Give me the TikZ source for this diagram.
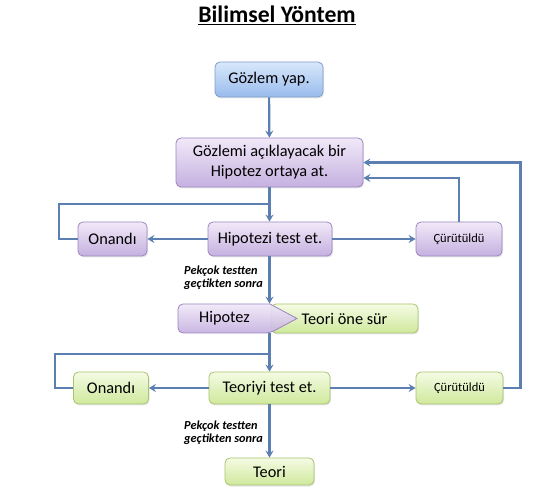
\documentclass[tikz,border=0pt]{standalone}
\usepackage{fontspec}
\setmainfont{Carlito}
\usetikzlibrary{arrows.meta,shadows}
\definecolor{arr}{HTML}{5A7FB0}
\definecolor{blueT}{HTML}{D9E8FB}
\definecolor{blueB}{HTML}{98BBEC}
\definecolor{blueD}{HTML}{7C9CC9}
\definecolor{purT}{HTML}{F1E9F8}
\definecolor{purB}{HTML}{C5B0E0}
\definecolor{purD}{HTML}{9A86C0}
\definecolor{grnT}{HTML}{F5FBE4}
\definecolor{grnB}{HTML}{CFE89C}
\definecolor{grnD}{HTML}{A8C46C}
\tikzset{
  box/.style={rounded corners=5pt, draw, line width=0.8pt, align=center, inner sep=0pt,
    font=\fontsize{16.3}{20}\selectfont,
    drop shadow={shadow xshift=1pt, shadow yshift=-1.5pt, opacity=0.2}},
  bluebox/.style={box, draw=blueD, top color=blueT, bottom color=blueB},
  purbox/.style={box, draw=purD, top color=purT, bottom color=purB},
  grnbox/.style={box, draw=grnD, top color=grnT, bottom color=grnB},
  smalltxt/.style={font=\fontsize{12.5}{15}\selectfont},
  conn/.style={draw=arr, line width=2.2pt},
  arrow/.style={conn, -{Stealth[length=7pt, width=8pt, inset=2.5pt]}},
  note/.style={font=\fontsize{12.3}{12.5}\selectfont\bfseries\itshape, align=left, inner sep=0pt, anchor=north west}
}
\begin{document}
\begin{tikzpicture}[x=1pt, y=-1pt]
\useasboundingbox (0,0) rectangle (550,500);
% title
\node[font=\fontsize{23.7}{26}\selectfont\bfseries] (title) at (277,15) {\underline{Bilimsel Yöntem}};
% boxes
\node[bluebox, minimum width=108pt, minimum height=35pt] (obs) at (269,79.5) {Gözlem yap.};
\node[purbox, minimum width=187pt, minimum height=49pt] (hyp) at (269.5,162.5) {Gözlemi açıklayacak bir\\Hipotez ortaya at.};
\node[purbox, minimum width=69pt, minimum height=34pt] (on1) at (112.5,239) {Onandı};
\node[purbox, minimum width=124pt, minimum height=34pt] (test1) at (270,239) {Hipotezi test et.};
\node[purbox, smalltxt, minimum width=86pt, minimum height=34pt] (cur1) at (459,239) {Çürütüldü};
% hypothesis -> theory
\node[grnbox, minimum width=147pt, minimum height=29pt] (tos) at (344.5,318.5) {Teori öne sür};
\path[draw=purD, line width=0.8pt, top color=purT, bottom color=purB, fill opacity=0.92]
  [rounded corners=5pt] (270,304) -- (178,304) -- (178,333) -- (270,333) [sharp corners] -- (297,318.5) -- cycle;
\node[font=\fontsize{16.3}{20}\selectfont] (hpz) at (224.5,318.5) {Hipotez};
% green row
\node[grnbox, minimum width=75pt, minimum height=32pt] (on2) at (111,388) {Onandı};
\node[grnbox, minimum width=121pt, minimum height=32pt] (test2) at (269.5,388) {Teoriyi test et.};
\node[grnbox, smalltxt, minimum width=87pt, minimum height=32pt] (cur2) at (459.5,388) {Çürütüldü};
\node[grnbox, minimum width=89pt, minimum height=27pt] (teori) at (269.5,471.5) {Teori};
% notes
\node[note] (n1) at (184,266) {Pekçok testten\\geçtikten sonra};
\node[note] (n2) at (184,421) {Pekçok testten\\geçtikten sonra};
% junction coordinates
\coordinate (j1) at (269.5,204);
\coordinate (j2) at (269.5,354);
% connectors
\draw[arrow] (obs) -- (hyp);
\draw[arrow] (hyp.south) -- (test1.north -| hyp.south);
\draw[conn] (on1.west) -- ++(-19,0) |- (j1);
\draw[arrow] (test1) -- (on1);
\draw[arrow] (test1) -- (cur1);
\draw[arrow] (cur1.north) |- ([yshift=-15.5pt]hyp.east);
\draw[arrow] (test1.south -| j1) -- (j1 |- tos.north);
\draw[conn] (j1 |- tos.south) -- (j2);
\draw[arrow] (j2) -- (test2.north -| j2);
\draw[conn] (on2.west) -- ++(-18,0) |- (j2);
\draw[arrow] (test2) -- (on2);
\draw[arrow] (test2) -- (cur2);
\draw[arrow] (cur2.east) -- ++(17,0) |- (hyp.east);
\draw[arrow] (test2) -- (teori);
\end{tikzpicture}
\end{document}
